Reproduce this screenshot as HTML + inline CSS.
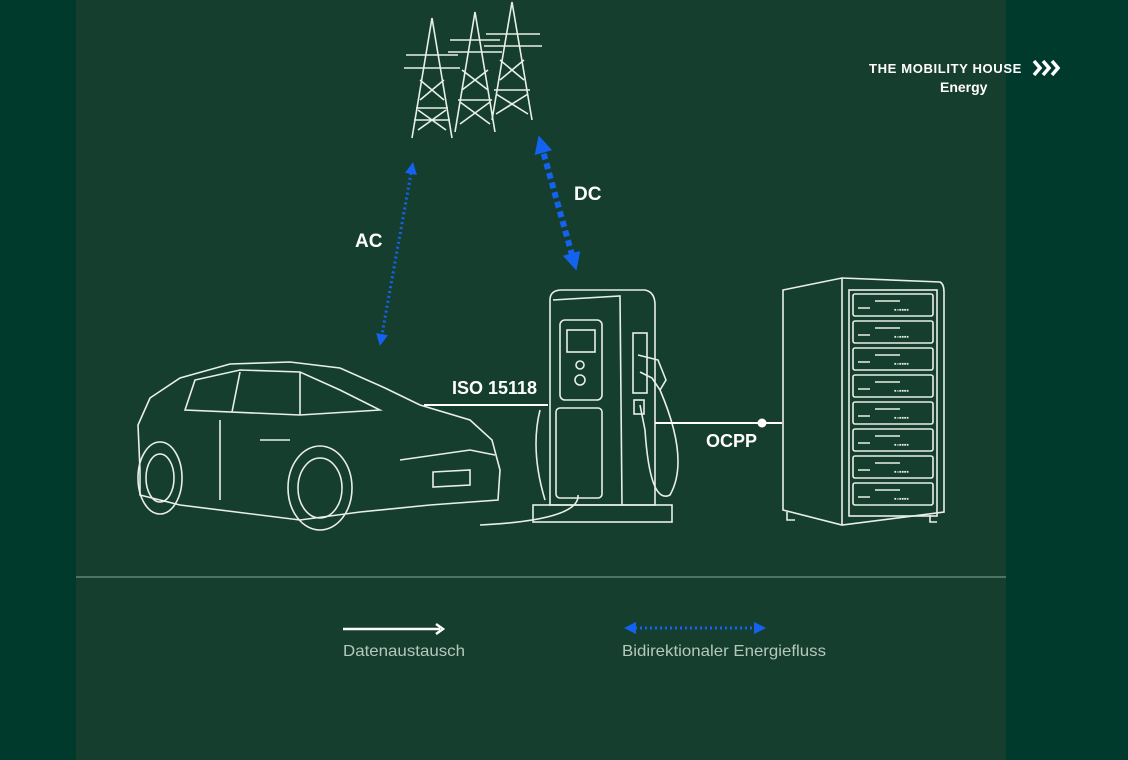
<!DOCTYPE html>
<html><head><meta charset="utf-8"><style>
html,body{margin:0;padding:0;width:1128px;height:760px;overflow:hidden;background:#003a2c}
.panel{position:absolute;left:76px;top:0;width:930px;height:760px;background:#163e2e}
svg{position:absolute;left:0;top:0}
text{font-family:"Liberation Sans",sans-serif}
</style></head><body>
<div class="panel"></div>
<svg width="1128" height="760" viewBox="0 0 1128 760">
<defs>
<marker id="bh" markerWidth="4" markerHeight="4" refX="2" refY="2" orient="auto-start-reverse" markerUnits="strokeWidth"><path d="M0,0 L4,2 L0,4 z" fill="#1463f0"/></marker>
<marker id="bh2" markerWidth="3" markerHeight="3" refX="1.5" refY="1.5" orient="auto-start-reverse" markerUnits="strokeWidth"><path d="M0,0 L3,1.5 L0,3 z" fill="#1463f0"/></marker>
</defs>
<line x1="76" y1="577" x2="1006" y2="577" stroke="#4e7563" stroke-width="2"/>
<!-- towers -->
<g stroke="#e8efe9" stroke-width="1.6" fill="none">
 <path d="M412 138 L432 18 L452 138 M404 68 L460 68 M406 55 L458 55 M416 108 L448 108 M414 120 L450 120 M420 80 L444 100 M444 80 L420 100 M418 110 L446 130 M446 110 L418 130"/>
 <path d="M455 132 L475 12 L495 132 M448 52 L502 52 M450 40 L500 40 M458 100 L492 100 M462 70 L488 90 M488 70 L462 90 M460 102 L490 124 M490 102 L460 124"/>
 <path d="M492 120 L512 2 L532 120 M484 46 L542 46 M486 34 L540 34 M494 90 L530 90 M500 60 L524 80 M524 60 L500 80 M496 94 L528 114 M528 94 L496 114"/>
</g>
<!-- car -->
<g stroke="#e8efe9" stroke-width="1.6" fill="none">
 <path d="M140 470 L138 425 L150 398 L180 378 L230 364 L290 362 L340 368 L385 388 L420 405 L470 420 L492 440 L500 470 L498 500 L430 505 L360 512 L300 520 L180 505 L140 495 Z"/>
 <path d="M185 410 L195 380 L240 370 L300 372 L340 390 L380 410 L300 415 Z M240 372 L232 412 M300 372 L300 415"/>
 <ellipse cx="160" cy="478" rx="22" ry="36"/><ellipse cx="160" cy="478" rx="14" ry="24"/>
 <ellipse cx="320" cy="488" rx="32" ry="42"/><ellipse cx="320" cy="488" rx="22" ry="30"/>
 <path d="M400 460 L470 450 L495 455 M433 472 L470 470 L470 485 L433 487 Z M260 440 L290 440 M220 420 L220 500"/>
</g>
<!-- charger -->
<g stroke="#e8efe9" stroke-width="1.6" fill="none">
 <path d="M550 300 Q550 290 562 290 L645 290 Q655 292 655 305 L655 505 L550 505 Z"/>
 <path d="M553 300 L620 296 L622 505"/>
 <rect x="560" y="320" width="42" height="80" rx="5"/>
 <rect x="567" y="330" width="28" height="22"/>
 <circle cx="580" cy="365" r="4"/><circle cx="580" cy="380" r="5"/>
 <rect x="556" y="408" width="46" height="90" rx="4"/>
 <rect x="633" y="333" width="14" height="60"/>
 <path d="M638 355 L658 360 L666 380 L660 390 L652 378 L640 372 M660 390 Q690 460 670 495 Q650 505 645 430 L640 405"/>
 <rect x="634" y="400" width="10" height="14"/>
 <rect x="533" y="505" width="139" height="17"/>
 <path d="M578 495 Q580 520 480 525 M540 410 Q530 450 545 500"/>
</g>
<!-- rack -->
<g stroke="#e8efe9" stroke-width="1.6" fill="none">
 <path d="M783 290 L842 278 L940 282 Q944 284 944 292 L944 512 L842 525 L783 510 Z M842 278 L842 525"/>
 <rect x="849" y="290" width="88" height="226"/>
 <g id="sh"><rect x="853" y="294" width="80" height="22" rx="2"/><path d="M858 308 L870 308 M875 301 L900 301"/><text x="894" y="312" font-size="7" fill="#e8efe9" stroke="none">▪▫▪▪▪▪</text></g>
 <use href="#sh" y="27"/><use href="#sh" y="54"/><use href="#sh" y="81"/><use href="#sh" y="108"/><use href="#sh" y="135"/><use href="#sh" y="162"/><use href="#sh" y="189"/>
 <path d="M787 512 L787 520 L795 520 M930 515 L930 522 L937 522"/>
</g>
<!-- data lines -->
<polyline points="424,405 548,405" stroke="#fff" stroke-width="2" fill="none"/>
<line x1="655" y1="423" x2="782" y2="423" stroke="#fff" stroke-width="2"/>
<circle cx="762" cy="423" r="4.5" fill="#fff"/>
<!-- energy arrows -->
<line x1="412" y1="168" x2="381" y2="340" stroke="#1463f0" stroke-width="3" stroke-dasharray="2 3" marker-start="url(#bh)" marker-end="url(#bh)"/>
<line x1="541" y1="144" x2="574" y2="262" stroke="#1463f0" stroke-width="6" stroke-dasharray="6 4" marker-start="url(#bh2)" marker-end="url(#bh2)"/>
<text x="355" y="247" font-size="19" font-weight="bold" fill="#fff">AC</text>
<text x="574" y="200" font-size="19" font-weight="bold" fill="#fff">DC</text>
<text x="452" y="394" font-size="18" font-weight="bold" fill="#fff">ISO 15118</text>
<text x="706" y="447" font-size="18" font-weight="bold" fill="#fff">OCPP</text>
<!-- logo -->
<text x="869" y="73" font-size="13" font-weight="bold" fill="#fff" letter-spacing="0.6" textLength="153" lengthAdjust="spacingAndGlyphs">THE MOBILITY HOUSE</text>
<path d="M1034 61 L1040 68 L1034 75 M1043 61 L1049 68 L1043 75 M1052 61 L1058 68 L1052 75" stroke="#fff" stroke-width="3.5" fill="none"/>
<text x="940" y="92" font-size="14" font-weight="bold" fill="#fff">Energy</text>
<!-- legend -->
<line x1="343" y1="629" x2="440" y2="629" stroke="#fff" stroke-width="2.5"/>
<path d="M436 624 L443 629 L436 634" stroke="#fff" stroke-width="2.5" fill="none"/>
<text x="343" y="656" font-size="16" fill="#b6c8bd" textLength="122" lengthAdjust="spacingAndGlyphs">Datenaustausch</text>
<line x1="630" y1="628" x2="760" y2="628" stroke="#1463f0" stroke-width="3" stroke-dasharray="2 3" marker-start="url(#bh)" marker-end="url(#bh)"/>
<text x="622" y="656" font-size="16" fill="#b6c8bd" textLength="204" lengthAdjust="spacingAndGlyphs">Bidirektionaler Energiefluss</text>
</svg>
</body></html>
